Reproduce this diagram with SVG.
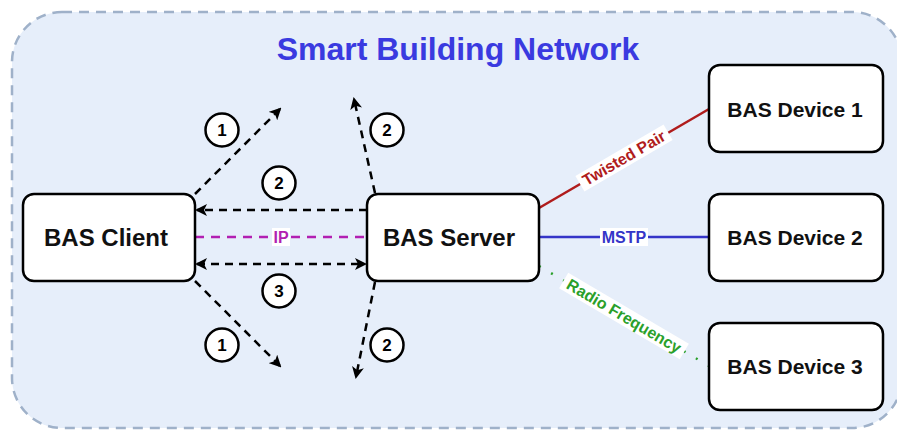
<svg xmlns="http://www.w3.org/2000/svg" width="897" height="430" viewBox="0 0 897 430">
<defs>
<style>
.node rect{fill:#fff;stroke:#000;stroke-width:2.5}
.node text{font-family:"Liberation Sans",Arial,sans-serif;font-weight:bold;font-size:24px;text-anchor:middle;dominant-baseline:central;fill:#111}
.dev text{font-size:21px}
.flow{fill:none;stroke:#000;stroke-width:2.5;stroke-dasharray:8 6}
.num circle{fill:#fff;stroke:#000;stroke-width:2.5}
.num text{font-family:"Liberation Sans",Arial,sans-serif;font-weight:bold;font-size:17px;text-anchor:middle;dominant-baseline:central}
.lbl{font-family:"Liberation Sans",Arial,sans-serif;font-weight:bold;font-size:16px;text-anchor:middle;dominant-baseline:central}
</style>
<marker id="ah" viewBox="0 0 12 12" refX="10" refY="6" markerWidth="12" markerHeight="12" markerUnits="userSpaceOnUse" orient="auto-start-reverse">
<path d="M0,0 L12,6 L0,12 L3,6 Z" fill="#000"/>
</marker>
</defs>
<g id="container">
<rect x="12" y="12" width="890" height="416" rx="50" fill="#e6eefa" stroke="#9fb1c9" stroke-width="2.5" stroke-dasharray="10 7"/>
<text x="458" y="49" font-family="Liberation Sans,Arial,sans-serif" font-weight="bold" font-size="32" fill="#3a3ae0" text-anchor="middle" dominant-baseline="central">Smart Building Network</text>
</g>
<g id="connectors">
<line x1="539" y1="208" x2="709" y2="109" stroke="#b01c1c" stroke-width="2.5"/>
<g transform="translate(624,158) rotate(-30.2)">
<rect x="-51" y="-9" width="102" height="18" fill="#fff"/>
<text class="lbl" fill="#b01c1c" x="0" y="0">Twisted Pair</text>
</g>
<line x1="539" y1="237" x2="709" y2="237" stroke="#3535c8" stroke-width="2.5"/>
<rect x="600" y="228" width="48" height="18" fill="#fff"/>
<text class="lbl" fill="#3535c8" x="624" y="237">MSTP</text>
<line x1="539" y1="266" x2="709" y2="366" stroke="#2aa02a" stroke-width="2.5" stroke-dasharray="2 12"/>
<g transform="translate(624,316) rotate(30.5)">
<rect x="-70" y="-9" width="140" height="18" fill="#fff"/>
<text class="lbl" fill="#2aa02a" x="0" y="0">Radio Frequency</text>
</g>
<line x1="195" y1="237" x2="367" y2="237" stroke="#b21fb2" stroke-width="2.5" stroke-dasharray="9 7"/>
<rect x="272" y="228" width="18" height="18" fill="#fff"/>
<text class="lbl" fill="#b21fb2" x="281" y="237">IP</text>
<line class="flow" x1="367" y1="210" x2="197" y2="210" marker-end="url(#ah)"/>
<line class="flow" x1="197" y1="264" x2="365" y2="264" marker-start="url(#ah)" marker-end="url(#ah)"/>
<line class="flow" x1="195" y1="194" x2="280" y2="109" marker-end="url(#ah)"/>
<line class="flow" x1="195" y1="281" x2="280" y2="366" marker-end="url(#ah)"/>
<line class="flow" x1="375" y1="193" x2="354" y2="99" marker-end="url(#ah)"/>
<line class="flow" x1="375" y1="282" x2="356" y2="377" marker-end="url(#ah)"/>
</g>
<g id="num1a" class="num"><circle cx="222" cy="130" r="16.5"/><text x="222" y="130">1</text></g>
<g id="num2a" class="num"><circle cx="387" cy="130" r="16.5"/><text x="387" y="130">2</text></g>
<g id="num2b" class="num"><circle cx="279" cy="183" r="16.5"/><text x="279" y="183">2</text></g>
<g id="num3" class="num"><circle cx="279" cy="291" r="16.5"/><text x="279" y="291">3</text></g>
<g id="num1b" class="num"><circle cx="222" cy="345" r="16.5"/><text x="222" y="345">1</text></g>
<g id="num2c" class="num"><circle cx="387" cy="345" r="16.5"/><text x="387" y="345">2</text></g>
<g id="client" class="node"><rect x="23" y="194" width="172" height="87" rx="11"/><text x="106" y="237">BAS Client</text></g>
<g id="server" class="node"><rect x="367" y="194" width="172" height="87" rx="11"/><text x="449" y="237">BAS Server</text></g>
<g id="dev1" class="node dev"><rect x="709" y="65" width="174" height="87" rx="11"/><text x="795" y="109">BAS Device 1</text></g>
<g id="dev2" class="node dev"><rect x="709" y="194" width="174" height="87" rx="11"/><text x="795" y="237">BAS Device 2</text></g>
<g id="dev3" class="node dev"><rect x="709" y="323" width="174" height="87" rx="11"/><text x="795" y="366">BAS Device 3</text></g>
</svg>
